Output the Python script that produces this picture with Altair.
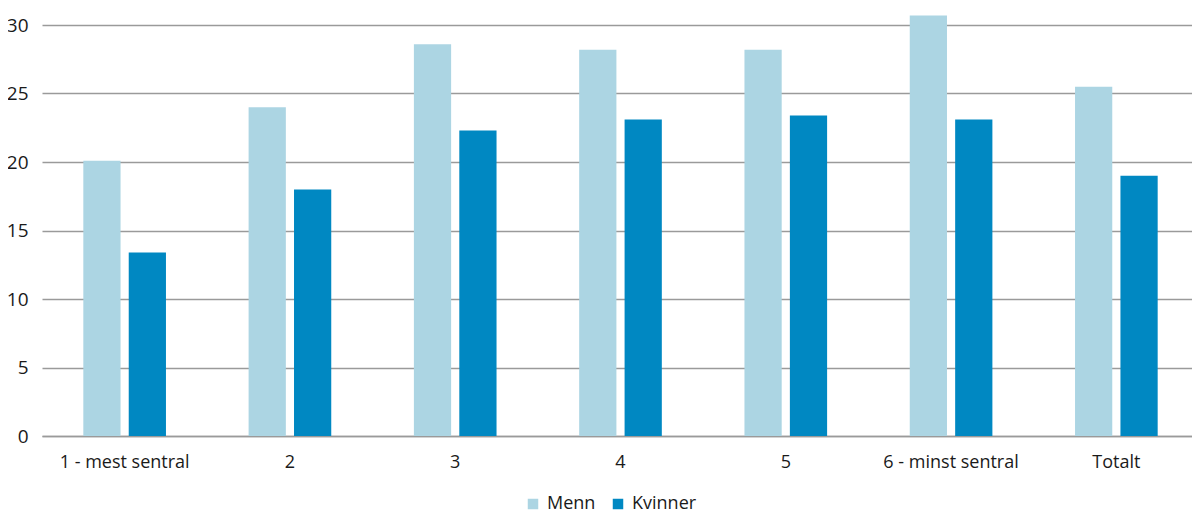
import altair as alt
import pandas as pd

categories = ["1 - mest sentral", "2", "3", "4", "5", "6 - minst sentral", "Totalt"]
menn = [20.1, 24.0, 28.6, 28.2, 28.2, 30.7, 25.5]
kvinner = [13.4, 18.0, 22.3, 23.1, 23.4, 23.1, 19.0]
series = ["Menn", "Kvinner"]
colors = ["#acd5e3", "#0088c2"]

rows = []
for c, m, k in zip(categories, menn, kvinner):
    rows.append({"kategori": c, "serie": "Menn", "verdi": m})
    rows.append({"kategori": c, "serie": "Kvinner", "verdi": k})
df = pd.DataFrame(rows)

FONT = "Open Sans"

chart = alt.Chart(df).mark_bar().encode(
    x=alt.X("kategori:N", sort=categories, title=None,
            scale=alt.Scale(paddingInner=0.5, paddingOuter=0.25, range=[0, 1157]),
            axis=alt.Axis(labelAngle=0, ticks=False, domainColor="#9a9a9a", domainWidth=1.5,
                          labelPadding=17, labelFontSize=18, labelColor="#1a1a1a", labelFont=FONT)),
    xOffset=alt.XOffset("serie:N", sort=series, scale=alt.Scale(paddingInner=0.18)),
    y=alt.Y("verdi:Q", title=None,
            scale=alt.Scale(domain=[0, 30], nice=False),
            axis=alt.Axis(values=[0, 5, 10, 15, 20, 25, 30], domain=False, ticks=False,
                          gridColor="#9a9a9a", gridWidth=1.5, labelPadding=14,
                          labelFontSize=19, labelColor="#1a1a1a", labelFont=FONT)),
    color=alt.Color("serie:N", sort=series,
                    scale=alt.Scale(domain=series, range=colors),
                    legend=alt.Legend(title=None, orient="none", direction="horizontal",
                                      legendX=482, legendY=470, symbolType="square",
                                      symbolSize=110, symbolStrokeWidth=0, labelFontSize=18,
                                      labelFont=FONT, labelColor="#1a1a1a", columnPadding=13,
                                      labelOffset=5)),
).properties(
    width=1150, height=411,
    autosize=alt.AutoSizeParams(type="none"),
    padding={"left": 34, "top": 17, "right": 0, "bottom": 84},
).configure_view(stroke=None)

chart.save("out.html", embed_options={"renderer": "svg", "actions": False})
